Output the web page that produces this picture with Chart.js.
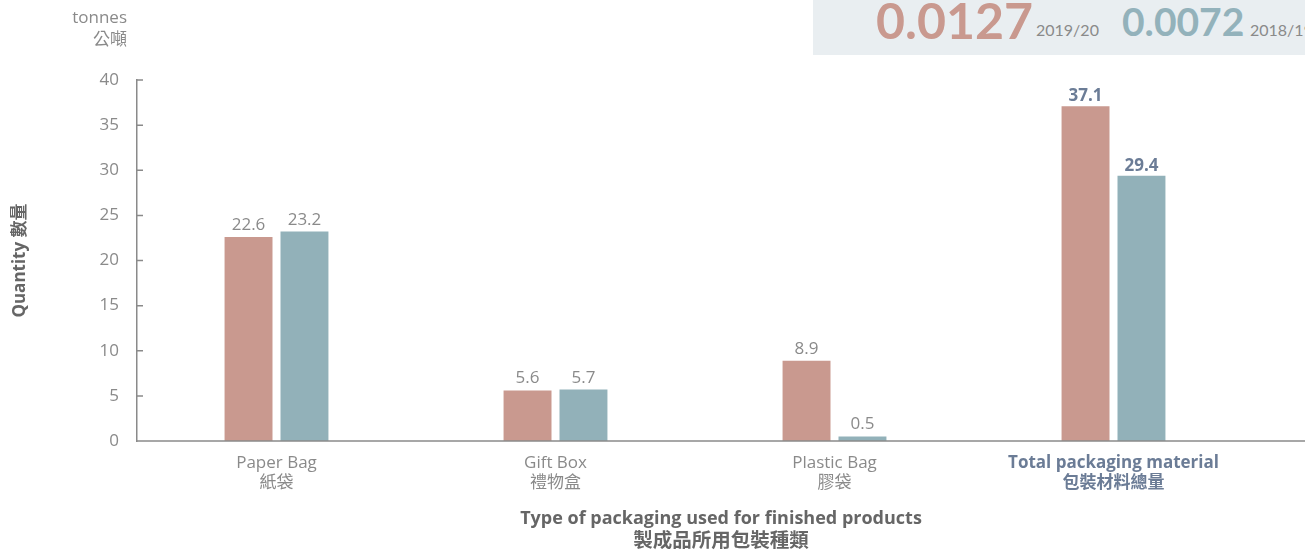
<!DOCTYPE html>
<html>
<head>
<meta charset="utf-8">
<script src="https://cdn.jsdelivr.net/npm/chart.js@4.4.1/dist/chart.umd.min.js"></script>
<style>
  html, body { margin: 0; padding: 0; background: #fff; }
  #wrap { position: relative; width: 1305px; height: 554px; overflow: hidden; font-family: "Open Sans", "Noto Sans CJK TC", sans-serif; }
  #unit { position: absolute; right: 1178px; top: 6px; text-align: right; color: #8a8a8a; font-size: 17px; line-height: 22px; }
  #summary { position: absolute; left: 813px; top: 0; width: 492px; height: 55px; background: #e9eef1; white-space: nowrap; overflow: hidden; font-family: Lato, sans-serif; }
  #summary span { position: absolute; }
  .big1 { left: 63px; top: -10px; font-size: 50px; color: #c9998f; font-weight: bold; }
  .big2 { left: 309px; top: -2px; font-size: 39px; color: #93b2bb; font-weight: bold; }
  .yr { font-size: 16px; color: #8a8a8a; top: 20px; }
</style>
</head>
<body>
<div id="wrap">
  <canvas id="grafico" width="1305" height="554"></canvas>
  <div id="unit">tonnes<br>公噸</div>
  <div id="summary">
    <span class="big1">0.0127</span><span class="yr" style="left:223px">2019/20</span>
    <span class="big2">0.0072</span><span class="yr" style="left:437px">2018/19</span>
  </div>
</div>
<script>
// datos del gráfico
const categorias = [['Paper Bag', '紙袋'], ['Gift Box', '禮物盒'], ['Plastic Bag', '膠袋'], ['Total packaging material', '包裝材料總量']];
const valores2020 = [22.6, 5.6, 8.9, 37.1];
const valores2019 = [23.2, 5.7, 0.5, 29.4];
const ticksY = [0, 5, 10, 15, 20, 25, 30, 35, 40];
const tituloX = ['Type of packaging used for finished products', '製成品所用包裝種類'];

const FUENTE = '"Open Sans", "Noto Sans CJK TC", sans-serif';
const GRIS = '#8a8a8a';
const AZUL_TOTAL = '#6b7c96';

// ejes, título X y etiquetas extra dibujados a mano
const extras = {
  id: 'extras',
  afterDraw(chart) {
    const { ctx, chartArea, scales } = chart;
    const y0 = scales.y.getPixelForValue(0);
    ctx.save();
    ctx.strokeStyle = GRIS;
    ctx.lineWidth = 1.5;
    ctx.beginPath();
    ctx.moveTo(chartArea.left, y0);
    ctx.lineTo(chart.width, y0);
    ticksY.forEach(v => {
      const y = scales.y.getPixelForValue(v);
      ctx.moveTo(chartArea.left, y);
      ctx.lineTo(chartArea.left + 6, y);
    });
    ctx.stroke();

    ctx.textAlign = 'center';
    ctx.textBaseline = 'alphabetic';
    chart.data.datasets.forEach((ds, i) => {
      chart.getDatasetMeta(i).data.forEach((bar, j) => {
        const total = j === 3;
        ctx.font = (total ? 'bold ' : '') + '17px ' + FUENTE;
        ctx.fillStyle = total ? AZUL_TOTAL : GRIS;
        ctx.fillText(ds.data[j].toFixed(1), bar.x, bar.y - (total ? 5 : 7));
      });
    });

    // título del eje X centrado en toda la línea del eje
    const cx = (chartArea.left + chart.width) / 2;
    ctx.fillStyle = '#666';
    ctx.textBaseline = 'middle';
    ctx.font = 'bold 18px ' + FUENTE;
    ctx.fillText(tituloX[0], cx, 519);
    ctx.font = 'bold 19.5px ' + FUENTE;
    ctx.fillText(tituloX[1], cx, 541);
    ctx.restore();
  }
};

new Chart(document.getElementById('grafico').getContext('2d'), {
  type: 'bar',
  data: {
    labels: categorias,
    datasets: [
      { label: '2019/20', data: valores2020, backgroundColor: '#c9998f', categoryPercentage: 0.401, barPercentage: 0.857 },
      { label: '2018/19', data: valores2019, backgroundColor: '#92b1b9', categoryPercentage: 0.401, barPercentage: 0.857 }
    ]
  },
  options: {
    responsive: false,
    animation: false,
    layout: { padding: { top: 80, right: 52, left: 0, bottom: 0 } },
    plugins: { legend: { display: false }, tooltip: { enabled: false } },
    scales: {
      x: {
        grid: { display: false },
        border: { display: false },
        ticks: {
          padding: 4,
          font: c => ({ family: FUENTE, size: 17, weight: c.index === 3 ? 'bold' : 'normal', lineHeight: 1.18 }),
          color: c => c.index === 3 ? AZUL_TOTAL : GRIS
        },
        afterFit: s => { s.height = 113; }
      },
      y: {
        min: 0,
        max: 40,
        grid: { display: false },
        border: { color: GRIS, width: 1.5 },
        ticks: { stepSize: 5, padding: 10, color: GRIS, font: { family: FUENTE, size: 17 } },
        title: {
          display: true,
          text: 'Quantity 數量',
          color: '#666',
          font: { family: FUENTE, size: 17, weight: 'bold', lineHeight: 1.2 },
          padding: { top: 10, bottom: 0 }
        },
        afterFit: s => { s.width = 137; }
      }
    }
  },
  plugins: [extras]
});
</script>
</body>
</html>
